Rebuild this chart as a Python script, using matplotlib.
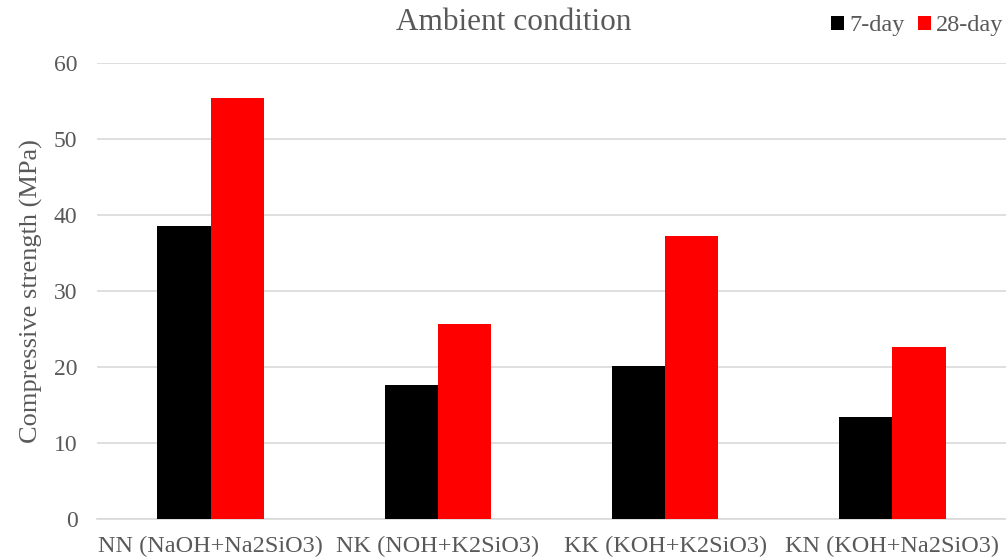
import numpy as np
import matplotlib.pyplot as plt

# Compressive strength per activator mix, read at 7 and 28 days
mixes = ["NN (NaOH+Na2SiO3)", "NK (NOH+K2SiO3)", "KK (KOH+K2SiO3)", "KN (KOH+Na2SiO3)"]
day7 = [38.6, 17.6, 20.1, 13.4]
day28 = [55.4, 25.7, 37.3, 22.6]

grey = "#595959"
plt.rcParams["font.family"] = ["Liberation Serif", "DejaVu Serif"]

fig = plt.figure(figsize=(10.06, 5.58), dpi=100)
ax = fig.add_axes([97 / 1006, 1 - 519 / 558, 1 - 97 / 1006, (519 - 63) / 558])

x = np.arange(len(mixes))
w = 0.234
ax.bar(x - w / 2, day7, w, color="black", label="7-day", zorder=3)
ax.bar(x + w / 2, day28, w, color="#ff0000", label="28-day", zorder=3)

ax.set_xlim(-0.5, len(mixes) - 0.5)
ax.set_ylim(0, 60)
ax.set_yticks(range(0, 61, 10))
ax.yaxis.grid(True, color="#d9d9d9", linewidth=1.2, zorder=0)
ax.set_xticks(x)
ax.set_xticklabels(mixes, fontsize=17.5)
ax.tick_params(axis="y", length=0, labelsize=17, colors=grey, pad=14)
ax.tick_params(axis="x", length=0, colors=grey, pad=12)
for s in ["top", "right", "left"]:
    ax.spines[s].set_visible(False)
ax.spines["bottom"].set_color("#d9d9d9")
ax.spines["bottom"].set_linewidth(1.2)

ax.set_ylabel("Compressive strength (MPa)", fontsize=19, color=grey, labelpad=8)
fig.text(0.511, 1 - 22 / 558, "Ambient condition", ha="center", va="center", fontsize=22.5, color=grey)

leg = fig.legend(loc="center right", bbox_to_anchor=(1.0, 1 - 26 / 558), ncol=2, frameon=False,
                 fontsize=17.5, handlelength=0.55, handleheight=0.55, handletextpad=0.2,
                 columnspacing=0.55, borderaxespad=0, borderpad=0.1)
for t in leg.get_texts():
    t.set_color(grey)

fig.savefig("out.png", dpi=100)
